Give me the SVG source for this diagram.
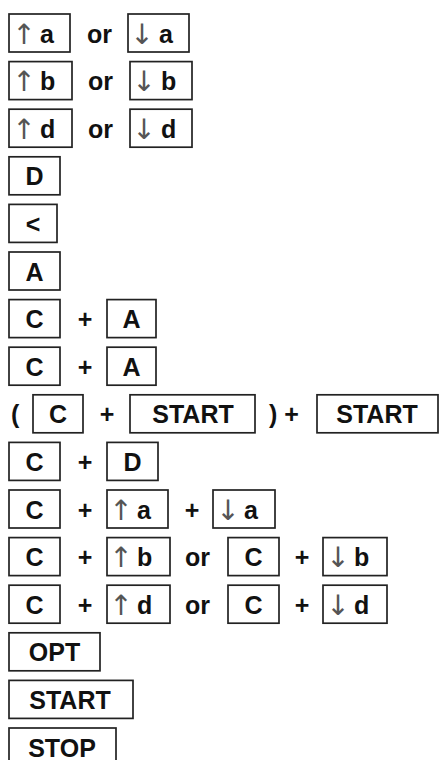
<svg xmlns="http://www.w3.org/2000/svg" width="446" height="760" viewBox="0 0 446 760">
<style>
.box{fill:#fff;stroke:#222;stroke-width:1.7}
.t{font-family:"Liberation Sans",Arial,sans-serif;font-weight:bold;font-size:25px;fill:#111}
.m{text-anchor:middle}
.arr{font-family:"DejaVu Sans",sans-serif;font-weight:normal;font-size:28px;fill:#555;text-anchor:middle}
</style>
<rect width="446" height="760" fill="#fff"/>
<g id="connectors"/>
<!-- row 1 -->
<g id="n-up-a"><rect class="box" x="9" y="14" width="61" height="38"/><text class="t" y="42.5"><tspan class="arr" x="24" dy="1">↑</tspan><tspan x="40" dy="-1">a</tspan></text></g>
<text class="t" x="87" y="42.5">or</text>
<g id="n-down-a"><rect class="box" x="128" y="14" width="61" height="38"/><text class="t" y="42.5"><tspan class="arr" x="142" dy="1">↓</tspan><tspan x="159" dy="-1">a</tspan></text></g>
<!-- row 2 -->
<g id="n-up-b"><rect class="box" x="9" y="61.6" width="63" height="38"/><text class="t" y="90.1"><tspan class="arr" x="24" dy="1">↑</tspan><tspan x="40" dy="-1">b</tspan></text></g>
<text class="t" x="88" y="90.1">or</text>
<g id="n-down-b"><rect class="box" x="130" y="61.6" width="62" height="38"/><text class="t" y="90.1"><tspan class="arr" x="144" dy="1">↓</tspan><tspan x="161" dy="-1">b</tspan></text></g>
<!-- row 3 -->
<g id="n-up-d"><rect class="box" x="9" y="109.2" width="63" height="38"/><text class="t" y="137.7"><tspan class="arr" x="24" dy="1">↑</tspan><tspan x="40" dy="-1">d</tspan></text></g>
<text class="t" x="88" y="137.7">or</text>
<g id="n-down-d"><rect class="box" x="130" y="109.2" width="62" height="38"/><text class="t" y="137.7"><tspan class="arr" x="144" dy="1">↓</tspan><tspan x="161" dy="-1">d</tspan></text></g>
<!-- row 4 -->
<g id="n-D"><rect class="box" x="9" y="156.8" width="51" height="38"/><text class="t m" x="34.5" y="185.3">D</text></g>
<!-- row 5 -->
<g id="n-lt"><rect class="box" x="9" y="204.4" width="48" height="38"/><text class="t m" x="33" y="232.9">&lt;</text></g>
<!-- row 6 -->
<g id="n-A"><rect class="box" x="9" y="252" width="51" height="38"/><text class="t m" x="34.5" y="280.5">A</text></g>
<!-- row 7 -->
<g id="n-r7-C"><rect class="box" x="9" y="299.6" width="51" height="38"/><text class="t m" x="34.5" y="328.1">C</text></g>
<text class="t m" x="85" y="328.1">+</text>
<g id="n-r7-A"><rect class="box" x="107" y="299.6" width="49" height="38"/><text class="t m" x="131.5" y="328.1">A</text></g>
<!-- row 8 -->
<g id="n-r8-C"><rect class="box" x="9" y="347.2" width="51" height="38"/><text class="t m" x="34.5" y="375.7">C</text></g>
<text class="t m" x="85" y="375.7">+</text>
<g id="n-r8-A"><rect class="box" x="107" y="347.2" width="49" height="38"/><text class="t m" x="131.5" y="375.7">A</text></g>
<!-- row 9 -->
<text class="t" x="11" y="423.3">(</text>
<g id="n-r9-C"><rect class="box" x="33" y="394.8" width="50" height="38"/><text class="t m" x="58" y="423.3">C</text></g>
<text class="t m" x="107" y="423.3">+</text>
<g id="n-r9-START1"><rect class="box" x="130" y="394.8" width="125" height="38"/><text class="t m" x="193" y="423.3">START</text></g>
<text class="t" x="269" y="423.3">) +</text>
<g id="n-r9-START2"><rect class="box" x="317" y="394.8" width="121" height="38"/><text class="t m" x="377" y="423.3">START</text></g>
<!-- row 10 -->
<g id="n-r10-C"><rect class="box" x="9" y="442.4" width="51" height="38"/><text class="t m" x="34.5" y="470.9">C</text></g>
<text class="t m" x="85" y="470.9">+</text>
<g id="n-r10-D"><rect class="box" x="107" y="442.4" width="51" height="38"/><text class="t m" x="132.5" y="470.9">D</text></g>
<!-- row 11 -->
<g id="n-r11-C"><rect class="box" x="9" y="490" width="51" height="38"/><text class="t m" x="34.5" y="518.5">C</text></g>
<text class="t m" x="85" y="518.5">+</text>
<g id="n-r11-up-a"><rect class="box" x="107" y="490" width="61" height="38"/><text class="t" y="518.5"><tspan class="arr" x="121" dy="1">↑</tspan><tspan x="137" dy="-1">a</tspan></text></g>
<text class="t m" x="192" y="518.5">+</text>
<g id="n-r11-down-a"><rect class="box" x="213" y="490" width="62" height="38"/><text class="t" y="518.5"><tspan class="arr" x="228" dy="1">↓</tspan><tspan x="244" dy="-1">a</tspan></text></g>
<!-- row 12 -->
<g id="n-r12-C1"><rect class="box" x="9" y="537.6" width="51" height="38"/><text class="t m" x="34.5" y="566.1">C</text></g>
<text class="t m" x="85" y="566.1">+</text>
<g id="n-r12-up-b"><rect class="box" x="107" y="537.6" width="63" height="38"/><text class="t" y="566.1"><tspan class="arr" x="121" dy="1">↑</tspan><tspan x="137" dy="-1">b</tspan></text></g>
<text class="t" x="185" y="566.1">or</text>
<g id="n-r12-C2"><rect class="box" x="228" y="537.6" width="51" height="38"/><text class="t m" x="253.5" y="566.1">C</text></g>
<text class="t m" x="302" y="566.1">+</text>
<g id="n-r12-down-b"><rect class="box" x="323" y="537.6" width="64" height="38"/><text class="t" y="566.1"><tspan class="arr" x="338" dy="1">↓</tspan><tspan x="354" dy="-1">b</tspan></text></g>
<!-- row 13 -->
<g id="n-r13-C1"><rect class="box" x="9" y="585.2" width="51" height="38"/><text class="t m" x="34.5" y="613.7">C</text></g>
<text class="t m" x="85" y="613.7">+</text>
<g id="n-r13-up-d"><rect class="box" x="107" y="585.2" width="63" height="38"/><text class="t" y="613.7"><tspan class="arr" x="121" dy="1">↑</tspan><tspan x="137" dy="-1">d</tspan></text></g>
<text class="t" x="185" y="613.7">or</text>
<g id="n-r13-C2"><rect class="box" x="228" y="585.2" width="51" height="38"/><text class="t m" x="253.5" y="613.7">C</text></g>
<text class="t m" x="302" y="613.7">+</text>
<g id="n-r13-down-d"><rect class="box" x="323" y="585.2" width="64" height="38"/><text class="t" y="613.7"><tspan class="arr" x="338" dy="1">↓</tspan><tspan x="354" dy="-1">d</tspan></text></g>
<!-- row 14-16 -->
<g id="n-OPT"><rect class="box" x="9" y="632.8" width="91" height="38"/><text class="t m" x="54.5" y="661.3">OPT</text></g>
<g id="n-START"><rect class="box" x="9" y="680.4" width="124" height="38"/><text class="t m" x="70" y="708.9">START</text></g>
<g id="n-STOP"><rect class="box" x="9" y="728" width="107" height="38"/><text class="t m" x="62" y="756.5">STOP</text></g>
</svg>
